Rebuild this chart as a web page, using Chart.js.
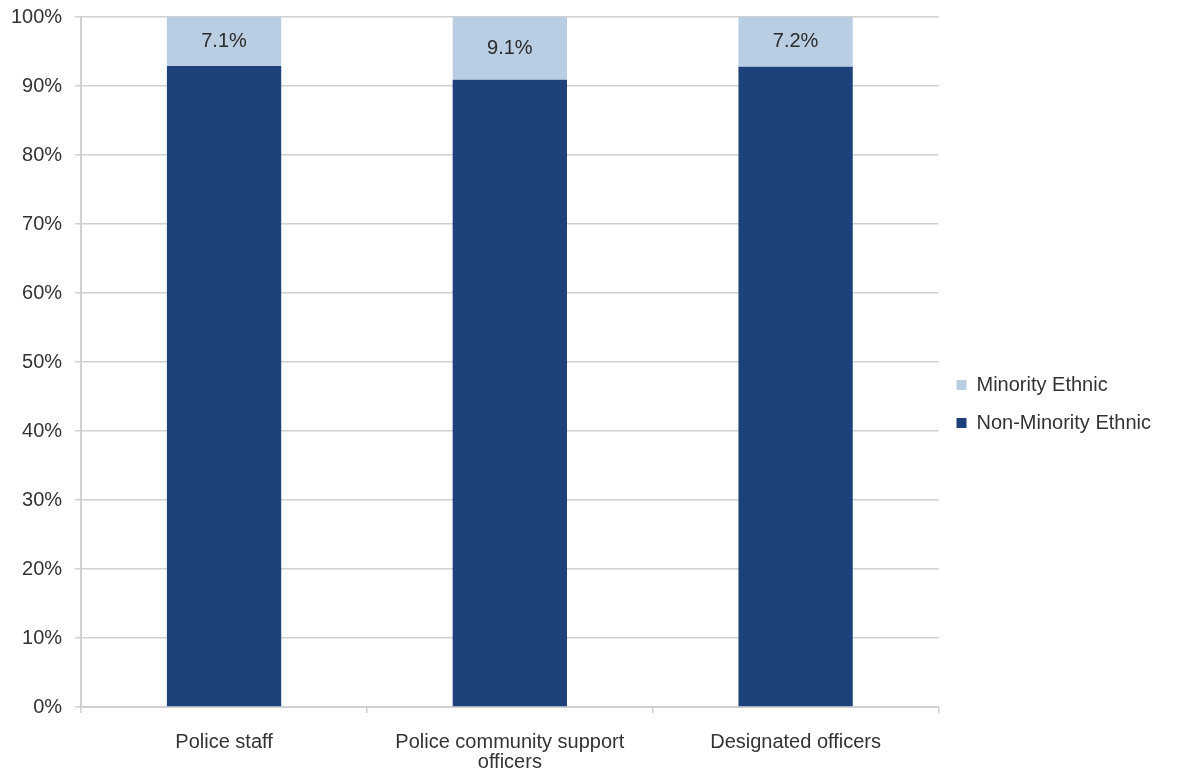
<!DOCTYPE html>
<html>
<head>
<meta charset="utf-8">
<script src="https://cdn.jsdelivr.net/npm/chart.js@4/dist/chart.umd.min.js"></script>
<style>
  body { margin: 0; background: #fff; }
  #wrap { width: 1183px; height: 769px; }
</style>
</head>
<body>
<div id="wrap"><canvas id="myChart"></canvas></div>
<script>
// categories on the x axis (middle one wraps onto two lines)
var categories = ['Police staff', ['Police community support', 'officers'], 'Designated officers'];

// share of each group, in percent
var nonMinority = [92.9, 90.9, 92.8];
var minority = [7.1, 9.1, 7.2];

var fontFamily = '"Liberation Sans", Arial, sans-serif';
var textColor = '#333333';
var gridColor = '#d0d0d0';

// writes the minority value in the middle of its (top) segment
const segmentLabels = {
  id: 'segmentLabels',
  afterDatasetsDraw(chart) {
    const ctx = chart.ctx;
    const meta = chart.getDatasetMeta(1);
    ctx.save();
    ctx.font = '20px ' + fontFamily;
    ctx.fillStyle = '#2b2b2b';
    ctx.textAlign = 'center';
    ctx.textBaseline = 'middle';
    meta.data.forEach(function (bar, i) {
      ctx.fillText(minority[i].toFixed(1) + '%', bar.x, (bar.y + bar.base) / 2);
    });
    ctx.restore();
  }
};

const data = {
  labels: categories,
  datasets: [{
    label: 'Non-Minority Ethnic',
    data: nonMinority,
    backgroundColor: '#1d417b',
    barPercentage: 0.4,
    categoryPercentage: 1
  }, {
    label: 'Minority Ethnic',
    data: minority,
    backgroundColor: '#b9cde3',
    barPercentage: 0.4,
    categoryPercentage: 1
  }]
};

const config = {
  type: 'bar',
  data: data,
  options: {
    responsive: true,
    maintainAspectRatio: false,
    animation: false,
    layout: { padding: { left: -2, top: 17, right: 22, bottom: -22 } },
    plugins: {
      tooltip: { enabled: false },
      legend: {
        position: 'right',
        reverse: true,
        labels: {
          boxWidth: 10,
          boxHeight: 10,
          padding: 18,
          color: textColor,
          font: { family: fontFamily, size: 20 }
        }
      }
    },
    scales: {
      x: {
        stacked: true,
        grid: { drawOnChartArea: false, drawTicks: true, tickLength: 6, color: gridColor, lineWidth: 1.5 },
        border: { color: gridColor, width: 2 },
        ticks: {
          color: textColor,
          maxRotation: 0,
          padding: 19,
          font: { family: fontFamily, size: 20, lineHeight: 1.0 }
        }
      },
      y: {
        stacked: true,
        min: 0,
        max: 100,
        grid: { color: gridColor, lineWidth: 1.5, tickLength: 6 },
        border: { color: gridColor, width: 2 },
        ticks: {
          stepSize: 10,
          color: textColor,
          padding: 13,
          font: { family: fontFamily, size: 20 },
          callback: function (v) { return v + '%'; }
        },
        // top label may overhang, the layout padding sets the top edge
        afterFit: function (scale) { scale.paddingTop = 0; }
      }
    }
  },
  plugins: [segmentLabels]
};

const myChart = new Chart(document.getElementById('myChart'), config);
</script>
</body>
</html>
